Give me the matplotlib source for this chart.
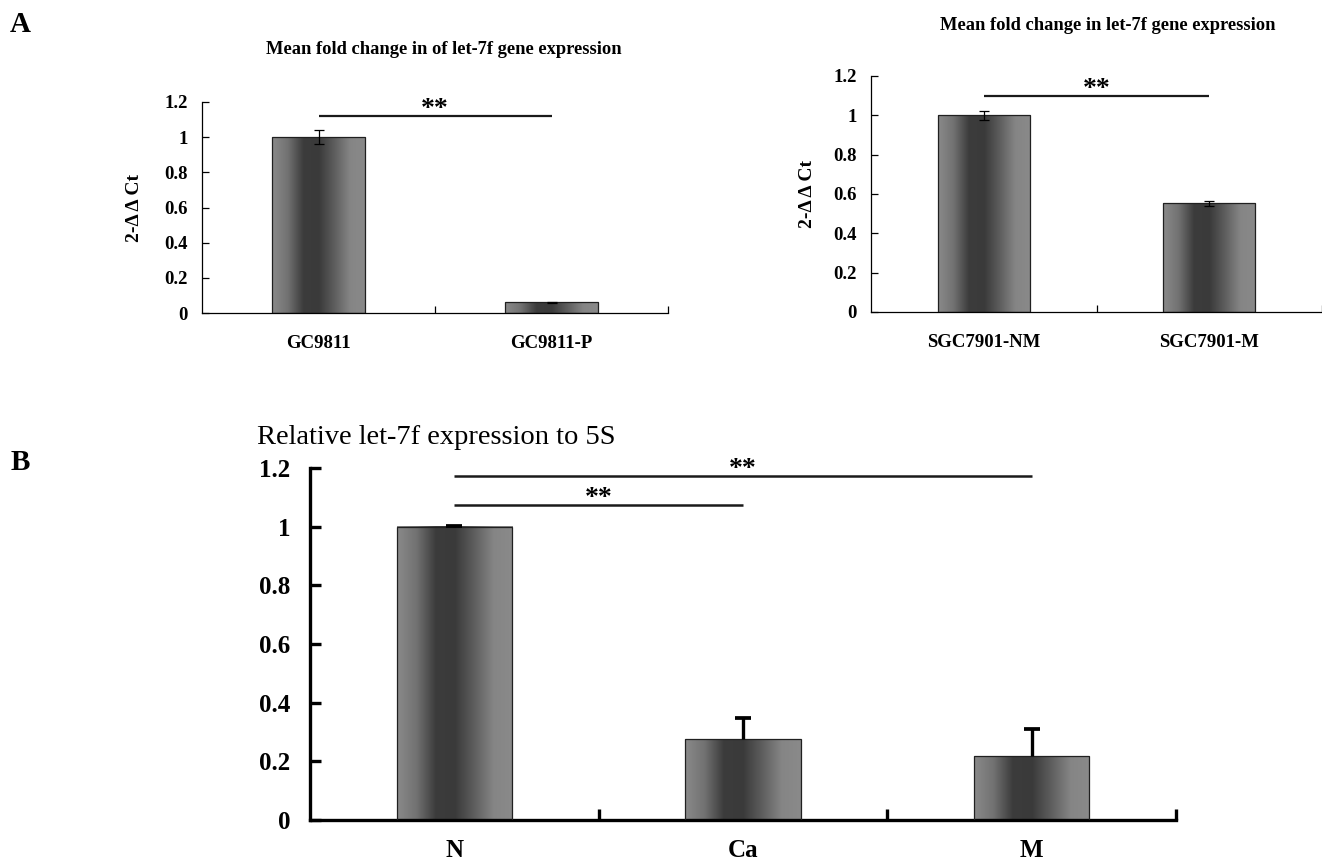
import numpy as np
import matplotlib.pyplot as plt
from matplotlib.colors import LinearSegmentedColormap

plt.rcParams['font.family'] = ['Liberation Serif', 'DejaVu Serif']

# Panel A, left
gc_labels = ['GC9811', 'GC9811-P']
gc_values = [1.0, 0.06]
gc_err = [0.04, 0.004]
gc_sig = [(0, 1, 1.12)]

# Panel A, right
sgc_labels = ['SGC7901-NM', 'SGC7901-M']
sgc_values = [1.0, 0.552]
sgc_err = [0.023, 0.013]
sgc_sig = [(0, 1, 1.10)]

# Panel B
b_labels = ['N', 'Ca', 'M']
b_values = [1.0, 0.275, 0.218]
b_err = [0.003, 0.074, 0.092]
b_sig = [(0, 1, 1.073), (0, 2, 1.174)]

yticks = [0, 0.2, 0.4, 0.6, 0.8, 1.0, 1.2]
ytick_labels = ['0', '0.2', '0.4', '0.6', '0.8', '1', '1.2']

W, H = 1322, 868
fig = plt.figure(figsize=(W / 100, H / 100), dpi=100)

def px_axes(left, right, top, bottom):
    return fig.add_axes([left / W, 1 - bottom / H, (right - left) / W, (bottom - top) / H])

grad = LinearSegmentedColormap.from_list(
    'bar', ['#8a8a8a', '#727272', '#3c3c3c', '#3a3a3a', '#5e5e5e', '#858585', '#8a8a8a'])

def draw(ax, labels, values, err, sig, width, fs, lw, err_lw, cap, star_fs, sig_lw, one_sided):
    n = len(labels)
    x = np.arange(n) + 0.5
    bars = ax.bar(x, values, width=width, facecolor='none', edgecolor='#202020',
                  linewidth=0.9, zorder=3)
    g = np.linspace(0, 1, 256).reshape(1, -1)
    for b in bars:
        x0, y0 = b.get_xy()
        ax.imshow(g, cmap=grad, extent=[x0, x0 + b.get_width(), y0, y0 + b.get_height()],
                  aspect='auto', zorder=2)
    top = np.array(values) + np.array(err)
    if one_sided:
        # upper whisker only, as in the original figure
        ax.vlines(x, values, top, color='black', lw=err_lw, zorder=4)
        ax.plot(x, top, ls='none', marker='_', ms=cap * 2, mew=err_lw + 0.3,
                color='black', zorder=4)
    else:
        ax.errorbar(x, values, yerr=err, fmt='none', ecolor='black', elinewidth=err_lw,
                    capsize=cap, capthick=err_lw, zorder=4)
    for i, j, h in sig:
        ax.plot([x[i], x[j]], [h, h], color='#1a1a1a', lw=sig_lw, solid_capstyle='butt',
                clip_on=False)
        ax.annotate('**', xy=((x[i] + x[j]) / 2, h), xytext=(0, -0.22 * star_fs),
                    textcoords='offset points', ha='center', va='bottom',
                    fontsize=star_fs, fontweight='bold')
    ax.set_xlim(0, n)
    ax.set_ylim(0, 1.2)
    for s in ['top', 'right']:
        ax.spines[s].set_visible(False)
    for s in ['left', 'bottom']:
        ax.spines[s].set_linewidth(lw)
    ax.set_xticks(x)
    ax.set_xticklabels(labels, fontweight='bold', fontsize=fs)
    ax.set_xticks(np.arange(1, n + 1), minor=True)
    ax.set_yticks(yticks)
    ax.set_yticklabels(ytick_labels, fontweight='bold', fontsize=fs)


# top-left
ax1 = px_axes(202, 668, 102, 313)
draw(ax1, gc_labels, gc_values, gc_err, gc_sig, 0.40, 13.5, 0.9, 0.9, 3.5, 20, 1.6, False)
ax1.tick_params(axis='x', which='major', length=0, pad=16)
ax1.tick_params(axis='x', which='minor', direction='in', length=5, width=0.9)
ax1.tick_params(axis='y', direction='in', length=5, width=0.9, pad=10)
ax1.set_ylabel('2-Δ Δ Ct', fontweight='bold', fontsize=14)
ax1.yaxis.set_label_coords(-0.127, 0.5)

# top-right
ax2 = px_axes(871, 1322, 76, 312)
draw(ax2, sgc_labels, sgc_values, sgc_err, sgc_sig, 0.41, 13.5, 0.9, 0.9, 3.5, 20, 1.6, False)
ax2.tick_params(axis='x', which='major', length=0, pad=16)
ax2.tick_params(axis='x', which='minor', direction='in', length=5, width=0.9)
ax2.tick_params(axis='y', direction='in', length=5, width=0.9, pad=10)
ax2.set_ylabel('2-Δ Δ Ct', fontweight='bold', fontsize=14)
ax2.yaxis.set_label_coords(-0.123, 0.5)

# bottom
ax3 = px_axes(310, 1176, 468, 820)
draw(ax3, b_labels, b_values, b_err, b_sig, 0.40, 18, 2.4, 2.4, 5.5, 20, 1.8, True)
ax3.tick_params(axis='x', which='major', length=0, pad=14)
ax3.tick_params(axis='x', which='minor', direction='in', length=8, width=2.4)
ax3.tick_params(axis='y', direction='in', length=8, width=2.4, pad=14)

fig.text(444 / W, 1 - 49 / H, 'Mean fold change in of let-7f gene expression',
         ha='center', va='center', fontsize=13.3, fontweight='bold')
fig.text(1108 / W, 1 - 25 / H, 'Mean fold change in let-7f gene expression',
         ha='center', va='center', fontsize=13.3, fontweight='bold')
fig.text(257 / W, 1 - 437 / H, 'Relative let-7f expression to 5S',
         ha='left', va='center', fontsize=20.5)
fig.text(20 / W, 1 - 24 / H, 'A', ha='center', va='center', fontsize=21, fontweight='bold')
fig.text(20 / W, 1 - 462 / H, 'B', ha='center', va='center', fontsize=21, fontweight='bold')

fig.savefig('out.png', dpi=100)
